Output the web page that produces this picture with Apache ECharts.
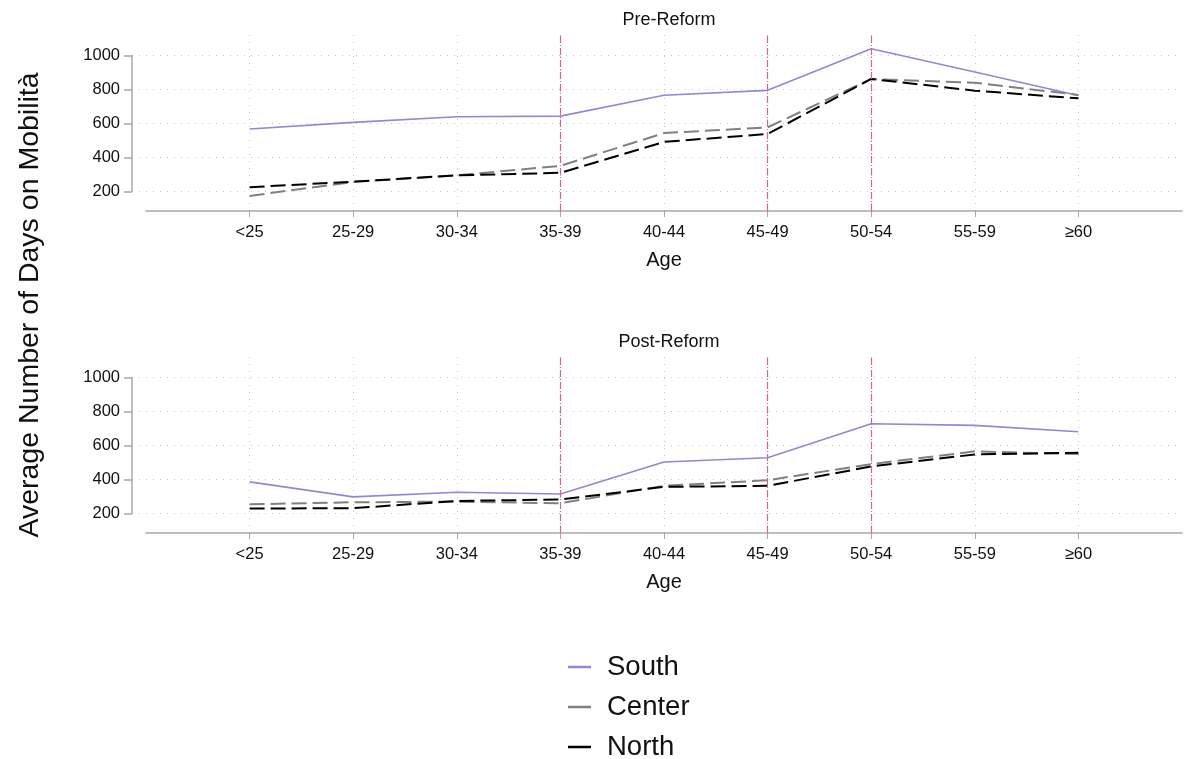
<!DOCTYPE html>
<html>
<head>
<meta charset="utf-8">
<script src="https://cdn.jsdelivr.net/npm/echarts@6/dist/echarts.min.js"></script>
<style>
  html, body { margin: 0; padding: 0; background: #fff; }
  #chart { width: 1188px; height: 759px; }
</style>
</head>
<body>
<div id="chart"></div>
<script>
// Age groups on the horizontal axis
const ageGroups = ['<25', '25-29', '30-34', '35-39', '40-44', '45-49', '50-54', '55-59', '≥60'];

// Average number of days on Mobilità, before the reform
const preSouth  = [567, 606, 639, 643, 766, 795, 1040, 903, 765];
const preCenter = [173, 255, 294, 350, 543, 577, 862, 840, 768];
const preNorth  = [224, 257, 294, 309, 491, 538, 862, 793, 748];

// Average number of days on Mobilità, after the reform
const postSouth  = [385, 297, 324, 314, 502, 527, 728, 718, 681];
const postCenter = [253, 265, 269, 259, 362, 395, 490, 565, 549];
const postNorth  = [228, 230, 273, 281, 356, 362, 476, 547, 557];

// Reference age groups marked with vertical lines
const reformMarks = ['35-39', '45-49', '50-54'];

// Y-axis tick range
const yTickMin = 200, yTickMax = 1000, yTickStep = 200;

const FONT = 'Liberation Sans, Arial, Helvetica, sans-serif';
const COL_SOUTH = '#8f88d8';
const COL_CENTER = '#808080';
const COL_NORTH = '#000000';
const COL_MARK = '#d7619f';
const COL_AXIS = '#a8a8a8';
const COL_GRID = '#c4c4c4';

// plot-region value range (a little wider than the labelled ticks)
const plotMin = 84, plotMax = 1121;
const plotH = 176;
const pxPerUnit = plotH / (plotMax - plotMin);
const panelTops = [35, 357];
const plotLeft = 146, plotRight = 6, axisLeft = 132;

// category axis padded with an empty slot on each side
const xCats = [''].concat(ageGroups).concat([' ']);
const isRealCat = (idx) => idx > 0 && idx < xCats.length - 1;

const pairs = (vals) => ageGroups.map((c, i) => [c, vals[i]]);

const grids = [], xAxes = [], yAxes = [], series = [], titles = [];
const panels = [
  { title: 'Pre-Reform',  south: preSouth,  center: preCenter,  north: preNorth },
  { title: 'Post-Reform', south: postSouth, center: postCenter, north: postNorth }
];

panels.forEach((p, k) => {
  const top = panelTops[k];
  const gPlot = grids.length;
  grids.push({ left: plotLeft, right: plotRight, top: top, height: plotH });
  const gAxis = grids.length;
  grids.push({
    left: axisLeft, right: plotRight,
    top: top + (plotMax - yTickMax) * pxPerUnit,
    height: (yTickMax - yTickMin) * pxPerUnit
  });

  // category axis of the plot region
  const xPlot = xAxes.length;
  xAxes.push({
    type: 'category', gridIndex: gPlot, data: xCats, boundaryGap: false,
    axisLine: { show: true, lineStyle: { color: COL_AXIS, width: 1.5 } },
    axisTick: { show: true, length: 6, interval: (i) => isRealCat(i), lineStyle: { color: COL_AXIS, width: 1 } },
    axisLabel: { interval: 0, color: '#111', fontSize: 16.5, fontFamily: FONT, margin: 13 },
    splitLine: { show: true, interval: (i) => isRealCat(i), lineStyle: { color: COL_GRID, type: [1, 6], width: 1 } },
    name: 'Age', nameLocation: 'middle', nameGap: 39,
    nameTextStyle: { fontSize: 20, color: '#111', fontFamily: FONT }
  });
  xAxes.push({ type: 'value', gridIndex: gAxis, show: false, min: 0, max: 1 });

  const yPlot = yAxes.length;
  yAxes.push({
    type: 'value', gridIndex: gPlot, min: plotMin, max: plotMax, show: false,
    splitLine: { show: false }
  });
  yAxes.push({
    type: 'value', gridIndex: gAxis, min: yTickMin, max: yTickMax, interval: yTickStep,
    axisLine: { show: true, lineStyle: { color: COL_AXIS, width: 1.5 } },
    axisTick: { show: true, length: 8, lineStyle: { color: COL_AXIS, width: 1.5 } },
    axisLabel: { color: '#111', fontSize: 16.5, fontFamily: FONT, margin: 12, formatter: (v) => String(v) },
    splitLine: { show: true, lineStyle: { color: COL_GRID, type: [1, 6], width: 1 } }
  });

  series.push({
    name: 'South', type: 'line', xAxisIndex: xPlot, yAxisIndex: yPlot,
    data: pairs(p.south), showSymbol: false, symbol: 'none', silent: true,
    lineStyle: { color: COL_SOUTH, width: 1.6 }, itemStyle: { color: COL_SOUTH },
    markLine: {
      silent: true, symbol: 'none', label: { show: false },
      lineStyle: { color: COL_MARK, type: [7, 2, 1, 2], width: 1.2 },
      data: reformMarks.map((m) => ({ xAxis: m }))
    }
  });
  series.push({
    name: 'Center', type: 'line', xAxisIndex: xPlot, yAxisIndex: yPlot,
    data: pairs(p.center), showSymbol: false, symbol: 'none', silent: true,
    lineStyle: { color: COL_CENTER, width: 2, type: [15, 6] }, itemStyle: { color: COL_CENTER }
  });
  series.push({
    name: 'North', type: 'line', xAxisIndex: xPlot, yAxisIndex: yPlot,
    data: pairs(p.north), showSymbol: false, symbol: 'none', silent: true,
    lineStyle: { color: COL_NORTH, width: 2, type: [15, 6] }, itemStyle: { color: COL_NORTH }
  });

  titles.push({
    text: p.title, left: (plotLeft + 1188 - plotRight) / 2, textAlign: 'center',
    top: top - 29,
    textStyle: { fontSize: 18, fontWeight: 'normal', color: '#111', fontFamily: FONT }
  });
});

const chart = echarts.init(document.getElementById('chart'), null, { renderer: 'canvas' });
chart.setOption({
  animation: false,
  backgroundColor: '#ffffff',
  title: titles,
  grid: grids,
  xAxis: xAxes,
  yAxis: yAxes,
  series: series,
  legend: {
    data: ['South', 'Center', 'North'],
    orient: 'vertical', left: 568, top: 652, height: 110, padding: 0,
    icon: 'rect', itemWidth: 23, itemHeight: 2.5, itemGap: 10,
    textStyle: { fontSize: 27.5, color: '#111', fontFamily: FONT, lineHeight: 30, padding: [0, 0, 0, 11] },
    selectedMode: false
  },
  graphic: [{
    type: 'text', x: 30, y: 305, rotation: Math.PI / 2,
    style: {
      text: 'Average Number of Days on Mobilità',
      fontSize: 28.5, fontFamily: FONT, fill: '#111',
      align: 'center', verticalAlign: 'middle'
    }
  }]
});
</script>
</body>
</html>
